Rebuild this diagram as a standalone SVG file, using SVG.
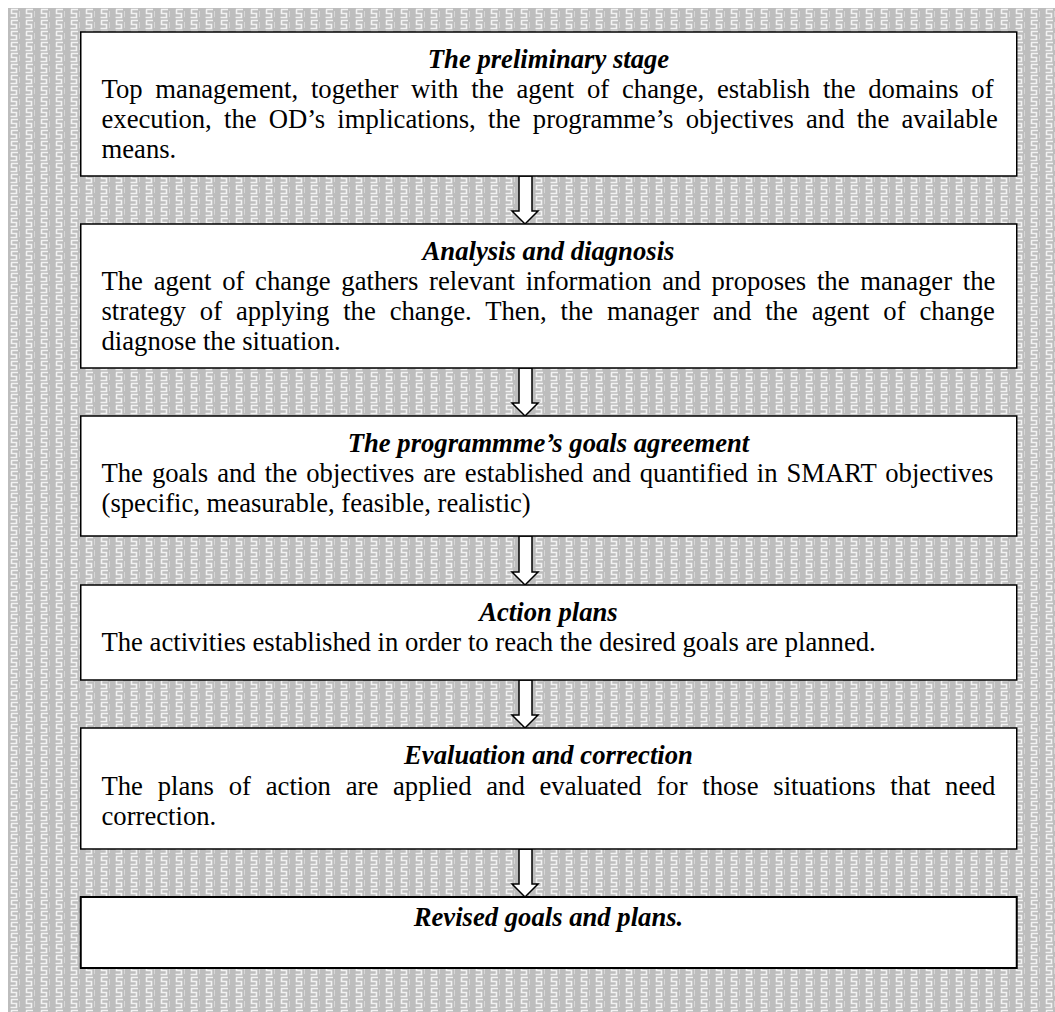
<svg xmlns="http://www.w3.org/2000/svg" width="1055" height="1012" viewBox="0 0 1055 1012">
<style>
.box{fill:#fff;stroke:#000;stroke-width:1.5}
.arrow{fill:#fff;stroke:#000;stroke-width:1.5;stroke-linejoin:miter}
.t{font-family:'Liberation Serif','Times New Roman',Tinos,'DejaVu Serif',serif;font-size:26.67px;fill:#000}
.title{font-weight:bold;font-style:italic;text-anchor:middle}
</style>
<defs>
<pattern id="bg" x="8" y="8" width="15" height="11" patternUnits="userSpaceOnUse">
<rect width="15" height="11" fill="#bdbdbd"/>
<path d="M3 1.5h7M3.5 1.5v4h5v4h-6" fill="none" stroke="#f2f2f2" stroke-width="1.6"/>
<path d="M11.5 3v6" fill="none" stroke="#d6d6d6" stroke-width="1"/>
</pattern>
</defs>
<rect x="8" y="8" width="1047" height="1004" fill="url(#bg)"/>
<g id="connectors">
<polygon class="arrow" points="519,176 532,176 532,211 538,211 525,224 512,211 519,211"/>
<polygon class="arrow" points="519,368 532,368 532,403 538,403 525,416 512,403 519,403"/>
<polygon class="arrow" points="519,536 532,536 532,572 538,572 525,585 512,572 519,572"/>
<polygon class="arrow" points="519,680 532,680 532,715 538,715 525,728 512,715 519,715"/>
<polygon class="arrow" points="519,849 532,849 532,884 538,884 525,897 512,884 519,884"/>
</g>
<g id="node1">
<rect class="box" x="80.75" y="32" width="936" height="144"/>
<text class="t title" x="548.5" y="68">The preliminary stage</text>
<text class="t" x="101.5" y="98" word-spacing="6.1">Top management, together with the agent of change, establish the domains of</text>
<text class="t" x="101.5" y="128" word-spacing="5.57">execution, the OD’s implications, the programme’s objectives and the available</text>
<text class="t" x="101.5" y="158">means.</text>
</g>
<g id="node2">
<rect class="box" x="80.75" y="224" width="936" height="144"/>
<text class="t title" x="548.5" y="260">Analysis and diagnosis</text>
<text class="t" x="101.5" y="290" word-spacing="4.08">The agent of change gathers relevant information and proposes the manager the</text>
<text class="t" x="101.5" y="320" word-spacing="7.26">strategy of applying the change. Then, the manager and the agent of change</text>
<text class="t" x="101.5" y="350">diagnose the situation.</text>
</g>
<g id="node3">
<rect class="box" x="80.75" y="416" width="936" height="120"/>
<text class="t title" x="548.5" y="452">The programmme’s goals agreement</text>
<text class="t" x="101.5" y="482" word-spacing="2.33">The goals and the objectives are established and quantified in SMART objectives</text>
<text class="t" x="101.5" y="512">(specific, measurable, feasible, realistic)</text>
</g>
<g id="node4">
<rect class="box" x="80.75" y="585" width="936" height="95"/>
<text class="t title" x="548.5" y="621">Action plans</text>
<text class="t" x="101.5" y="651">The activities established in order to reach the desired goals are planned.</text>
</g>
<g id="node5">
<rect class="box" x="80.75" y="728" width="936" height="121"/>
<text class="t title" x="548.5" y="764">Evaluation and correction</text>
<text class="t" x="101.5" y="795" word-spacing="8.12">The plans of action are applied and evaluated for those situations that need</text>
<text class="t" x="101.5" y="825">correction.</text>
</g>
<g id="node6">
<rect class="box" x="80.75" y="897" width="936" height="71" style="stroke-width:2"/>
<text class="t title" x="548.5" y="926">Revised goals and plans.</text>
</g>
</svg>
